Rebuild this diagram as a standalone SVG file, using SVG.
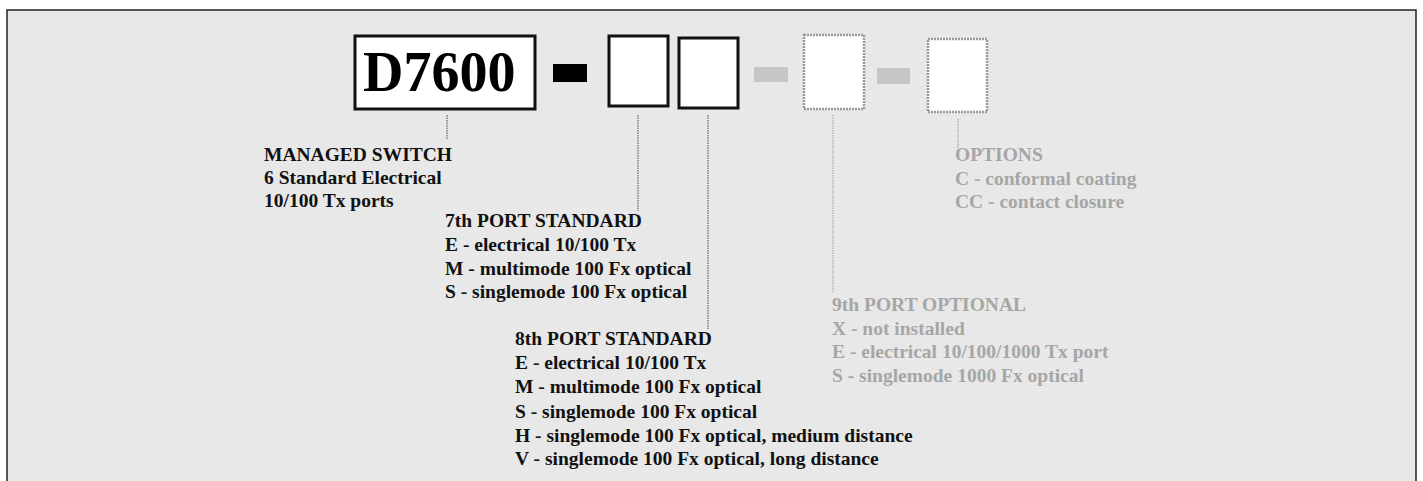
<svg xmlns="http://www.w3.org/2000/svg" width="1423" height="481" viewBox="0 0 1423 481">
<style>
  .t { font-family: "Liberation Serif", "Times New Roman", serif; font-size: 19.5px; font-weight: bold; fill: #111; }
  .g { font-family: "Liberation Serif", "Times New Roman", serif; font-size: 19.5px; font-weight: bold; fill: #a6a6a6; }
  .box { fill: #ffffff; stroke: #111; stroke-width: 3; }
  .gbox { fill: #ffffff; stroke: #9a9a9a; stroke-width: 2.5; stroke-dasharray: 2 1; }
  .conn line { stroke: #444; stroke-width: 1; stroke-dasharray: 1.5 1; }
  .conn line.gc { stroke: #9a9a9a; }
</style>
<rect x="0" y="0" width="1423" height="481" fill="#ffffff"/>
<rect x="7" y="10" width="1409" height="490" fill="#e8e8e8" stroke="#222" stroke-width="1.5"/>

<g id="node-d7600">
  <rect class="box" x="355" y="36" width="180" height="73"/>
  <text x="363" y="91" font-family="Liberation Serif, Times New Roman, serif" font-size="56" font-weight="bold" fill="#000">D7600</text>
</g>
<g id="node-dash">
  <rect x="553" y="64" width="34" height="18" fill="#000"/>
</g>
<g id="node-port7">
  <rect class="box" x="609" y="36" width="59" height="70"/>
</g>
<g id="node-port8">
  <rect class="box" x="679" y="38" width="59" height="70"/>
</g>
<g id="node-gdash1">
  <rect x="754" y="67" width="34" height="15" fill="#c6c6c6"/>
</g>
<g id="node-port9">
  <rect class="gbox" x="804" y="35" width="60" height="74"/>
</g>
<g id="node-gdash2">
  <rect x="877" y="68" width="33" height="16" fill="#c6c6c6"/>
</g>
<g id="node-options">
  <rect class="gbox" x="928" y="39" width="59" height="73"/>
</g>

<g id="connectors" class="conn">
  <line x1="447" y1="115" x2="447" y2="140"/>
  <line x1="638" y1="115" x2="638" y2="211"/>
  <line x1="708" y1="115" x2="708" y2="329"/>
  <line class="gc" x1="833" y1="115" x2="833" y2="293"/>
  <line class="gc" x1="958" y1="119" x2="958" y2="150"/>
</g>

<g id="label-managed">
  <text class="t" x="264" y="161">MANAGED SWITCH</text>
  <text class="t" x="264" y="184">6 Standard Electrical</text>
  <text class="t" x="264" y="207">10/100 Tx ports</text>
</g>
<g id="label-port7">
  <text class="t" x="445" y="227">7th PORT STANDARD</text>
  <text class="t" x="445" y="251">E - electrical 10/100 Tx</text>
  <text class="t" x="445" y="275">M - multimode 100 Fx optical</text>
  <text class="t" x="445" y="298">S - singlemode 100 Fx optical</text>
</g>
<g id="label-port8">
  <text class="t" x="515" y="345">8th PORT STANDARD</text>
  <text class="t" x="515" y="369">E - electrical 10/100 Tx</text>
  <text class="t" x="515" y="393">M - multimode 100 Fx optical</text>
  <text class="t" x="515" y="418">S - singlemode 100 Fx optical</text>
  <text class="t" x="515" y="442">H - singlemode 100 Fx optical, medium distance</text>
  <text class="t" x="515" y="465">V - singlemode 100 Fx optical, long distance</text>
</g>
<g id="label-port9">
  <text class="g" x="832" y="311">9th PORT OPTIONAL</text>
  <text class="g" x="832" y="335">X - not installed</text>
  <text class="g" x="832" y="358">E - electrical 10/100/1000 Tx port</text>
  <text class="g" x="832" y="382">S - singlemode 1000 Fx optical</text>
</g>
<g id="label-options">
  <text class="g" x="955" y="161">OPTIONS</text>
  <text class="g" x="955" y="185">C - conformal coating</text>
  <text class="g" x="955" y="208">CC - contact closure</text>
</g>
</svg>
